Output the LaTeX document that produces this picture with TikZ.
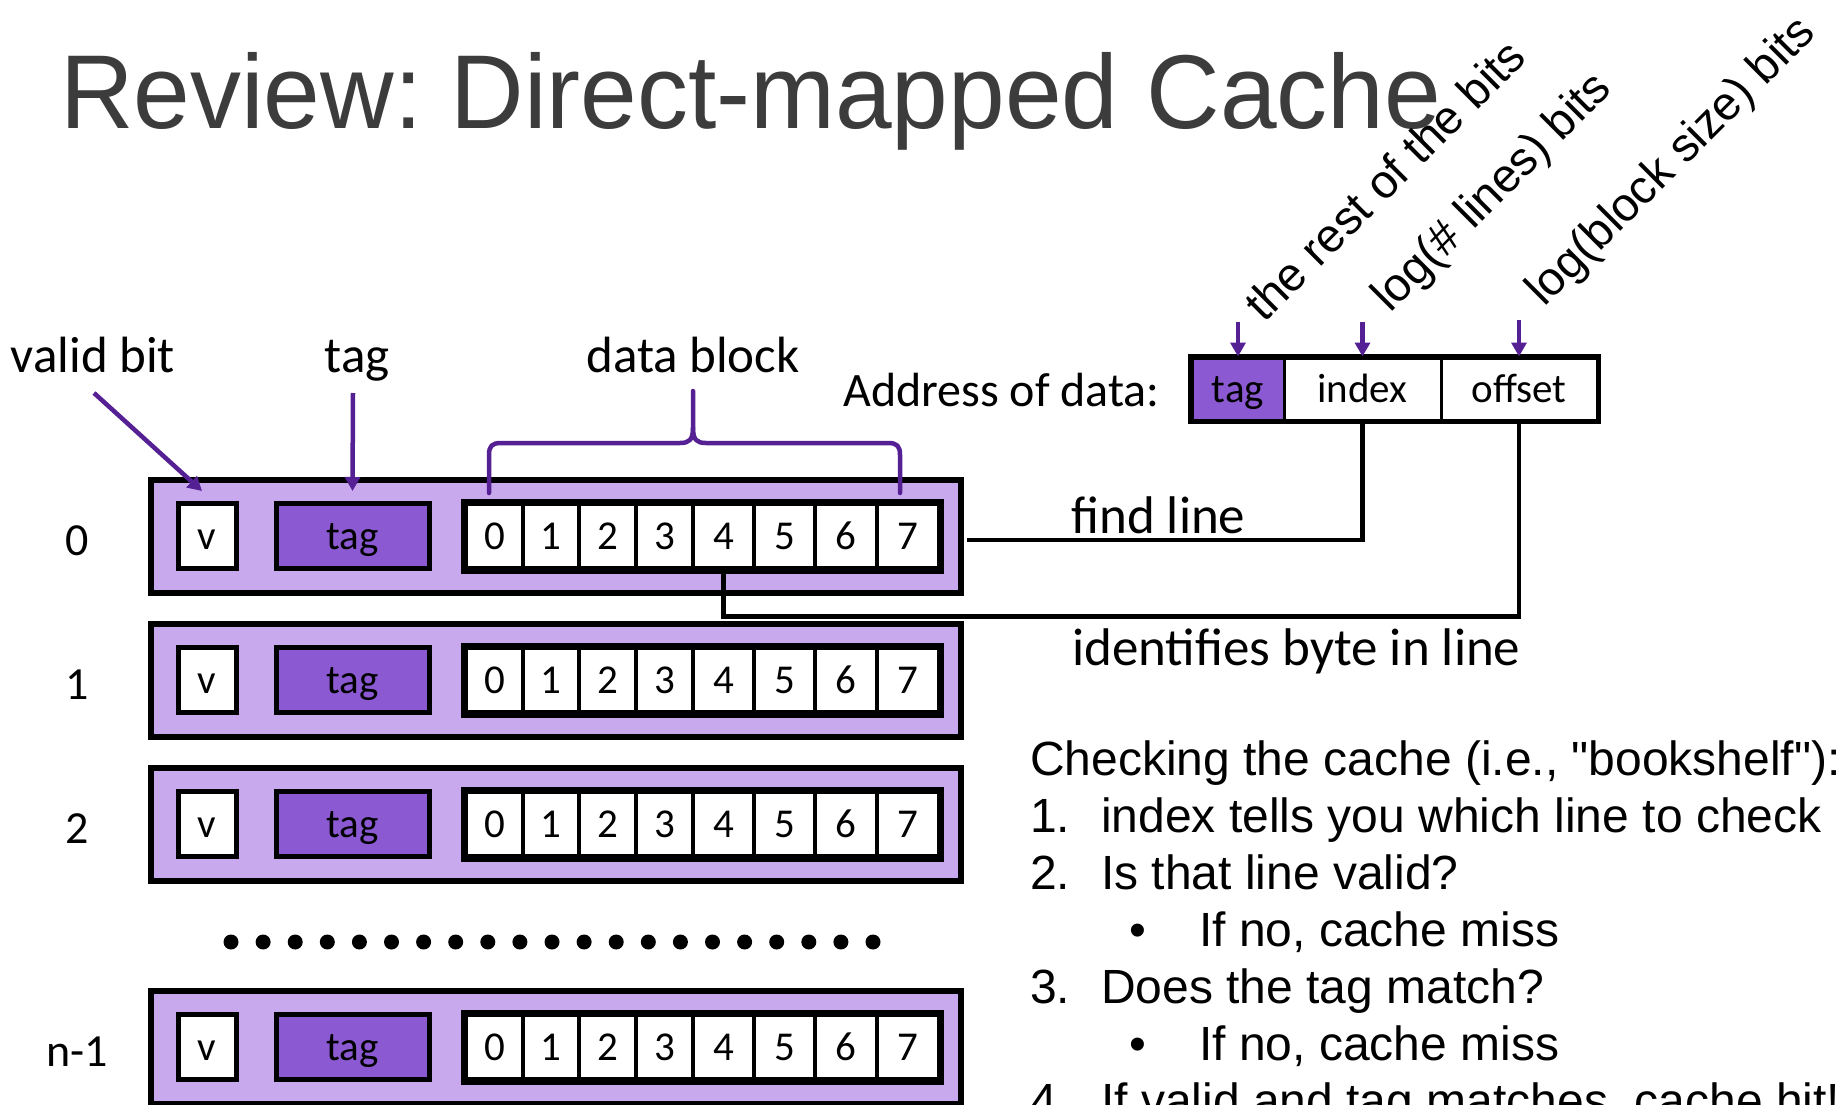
\documentclass[tikz,border=0pt]{standalone}
\usepackage{fontspec}
\setmainfont{Carlito}
\newfontfamily\arialfont[Ligatures=TeXOff]{Liberation Sans}
\newfontfamily\titlefont[FakeStretch=0.97]{Liberation Sans}
\usetikzlibrary{arrows.meta}
\definecolor{rowfill}{RGB}{201,169,238}
\definecolor{tagfill}{RGB}{139,89,209}
\definecolor{pointer}{RGB}{84,32,148}
\definecolor{titlegray}{RGB}{60,60,60}
\frenchspacing

\begin{document}
\begin{tikzpicture}[x=1pt,y=-1pt,
  rowbox/.style={draw=black, line width=6pt, fill=rowfill, inner sep=0pt,
    minimum width=810pt, minimum height=113pt},
  inbox/.style={draw=black, line width=5pt, inner sep=0pt, minimum height=65pt,
    text height=26pt, text depth=0pt, font=\fontsize{41}{48}\selectfont},
  vbox/.style={inbox, fill=white, minimum width=58pt},
  tagbox/.style={inbox, fill=tagfill, minimum width=153pt},
  cellbox/.style={inbox, fill=white, line width=4.5pt},
  rowlabel/.style={inner sep=0pt, font=\fontsize{46}{54}\selectfont},
  headlabel/.style={inner sep=0pt, anchor=base, font=\fontsize{51}{60}\selectfont},
  afield/.style={draw=black, line width=3pt, inner sep=0pt, minimum height=62pt,
    text height=26pt, text depth=0pt, font=\fontsize{41}{48}\selectfont},
  ptr/.style={draw=pointer, line width=4.5pt, -{Triangle[length=14pt,width=15pt]}},
  wire/.style={draw=black, line width=4.5pt},
  bitnote/.style={inner sep=0pt, anchor=base west, rotate=45,
    font=\arialfont\fontsize{47}{56}\selectfont},
  listtext/.style={inner sep=0pt, anchor=base west,
    font=\arialfont\fontsize{48}{57}\selectfont},
  plain/.style={inner sep=0pt, anchor=base west, font=\fontsize{53}{62}\selectfont}
]
\useasboundingbox[fill=white] (0,0) rectangle (1839,1105);

% title
\node[inner sep=0pt, anchor=base west, text=titlegray,
  font=\titlefont\fontsize{105}{124}\selectfont] (title) at (60,129)
  {Review: Direct-mapped Cache};

% cache lines
\foreach \nm/\cy/\lab in {0/536/0, 1/680/1, 2/824/2, 3/1047/n-1} {
  \node[rowbox] (row\nm) at (556,\cy) {};
  \node[rowlabel] (lab\nm) at (77,\cy+5) {\lab};
  \node[vbox] (v\nm) at (207,\cy) {v};
  \node[tagbox] (t\nm) at (352.5,\cy) {tag};
  \foreach \k/\a/\b in {0/466/523, 1/523/579, 2/579/636, 3/636/693,
                        4/693/754, 5/754/815, 6/815/877, 7/877/939} {
    \node[cellbox, minimum width={(\b-\a)*1pt}] (d\nm-\k) at ({(\a+\b)/2},\cy) {\k};
  }
  \draw[line width=5.5pt] (d\nm-0.north west) rectangle (d\nm-7.south east);
}

% more lines between
\foreach \i in {0,...,20}
  \fill ({231+32.1*\i},942) circle[radius=7.5pt];

% field labels over the lines
\node[headlabel] (lvalid) at (93,372) {valid bit};
\node[headlabel] (ltag) at (357,372) {tag};
\node[headlabel] (ldata) at (693,372) {data block};

\coordinate (validfrom) at (94,393);
\coordinate (tagfrom) at (353,393);
\draw[ptr] (validfrom) -- ([xshift=-5pt,yshift=10pt]v0.north);
\draw[ptr] (tagfrom) -- ([yshift=10pt]t0.north);

% brace over the data block
\draw[pointer, line width=4.5pt, line join=round, line cap=round]
  (489,493) -- (489,455) .. controls (489,446) and (492,443) .. (501,443)
  -- (680,443) .. controls (689,443) and (693,440) .. (693,428) -- (693,391);
\draw[pointer, line width=4.5pt, line join=round, line cap=round]
  (693,428) .. controls (693,440) and (697,443) .. (706,443)
  -- (888,443) .. controls (897,443) and (900,446) .. (900,455) -- (900,493);

% the address
\node[inner sep=0pt, anchor=base west, font=\fontsize{48}{56}\selectfont]
  (addrlabel) at (843,406) {Address of data:};
\node[afield, fill=tagfill, minimum width=92pt] (atag) at (1238,389) {tag};
\node[afield, fill=white, minimum width=157pt] (aidx) at (1362.5,389) {index};
\node[afield, fill=white, minimum width=156pt] (aoff) at (1519,389) {offset};
\draw[line width=5.5pt] (atag.north west) rectangle (aoff.south east);

\node[bitnote] (ntag) at (1264,324) {the rest of the bits};
\node[bitnote] (nidx) at (1390,314) {log(\# lines) bits};
\node[bitnote] (noff) at (1544,308) {log(block size) bits};

\draw[ptr] ([yshift=35pt]atag.north) -- (atag.north);
\draw[ptr] ([yshift=35pt]aidx.north) -- (aidx.north);
\draw[ptr] ([yshift=37pt]aoff.north) -- (aoff.north);

% index selects the line, offset selects the byte
\coordinate (findend) at (967,540);
\draw[wire] (aidx.south) |- (findend);
\draw[wire] (aoff.south) -- ++(0,195) -| (d0-4.south);
\node[plain] (findlbl) at (1071,533) {find line};
\node[plain] (bytelbl) at (1072,665) {identifies byte in line};

% checking procedure
\node[listtext] (chk) at (1030,775) {Checking the cache (i.e., "bookshelf"):};
\node[listtext] (n1) at (1030,832) {1.};
\node[listtext] (s1) at (1101,832) {index tells you which line to check};
\node[listtext] (n2) at (1030,889) {2.};
\node[listtext] (s2) at (1101,889) {Is that line valid?};
\node[listtext] (b1) at (1129,946) {•};
\node[listtext] (s2a) at (1199,946) {If no, cache miss};
\node[listtext] (n3) at (1030,1003) {3.};
\node[listtext] (s3) at (1101,1003) {Does the tag match?};
\node[listtext] (b2) at (1129,1060) {•};
\node[listtext] (s3a) at (1199,1060) {If no, cache miss};
\node[listtext] (n4) at (1030,1117) {4.};
\node[listtext] (s4) at (1101,1117) {If valid and tag matches, cache hit!};
\end{tikzpicture}
\end{document}
